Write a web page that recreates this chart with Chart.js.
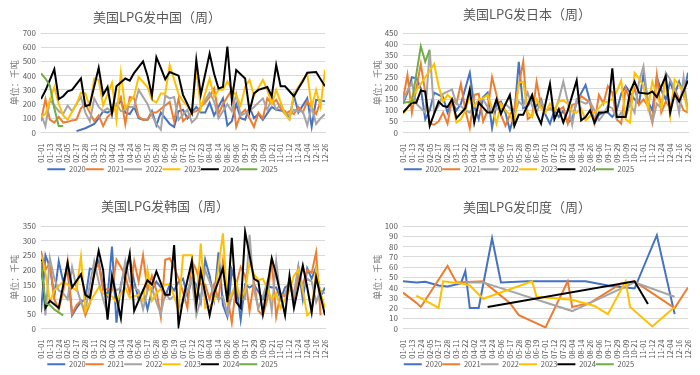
<!DOCTYPE html>
<html>
<head>
<meta charset="utf-8">
<script src="https://cdn.jsdelivr.net/npm/chart.js@4.4.0/dist/chart.umd.min.js"></script>
<style>
  html, body { margin: 0; padding: 0; background: #fff; }
  #wrap { position: relative; width: 700px; height: 375px; overflow: hidden; font-family: "Noto Sans CJK SC", sans-serif; }
  .panel { position: absolute; width: 350px; }
  .ttl { position: absolute; font-size: 13px; line-height: 18px; color: #595959; white-space: nowrap; transform: translateX(-50%); }
</style>
</head>
<body>
<div id="wrap">
  <div class="panel" style="left:0;top:0"><canvas id="cn" width="350" height="185"></canvas></div>
  <div class="panel" style="left:350px;top:0"><canvas id="jp" width="350" height="185"></canvas></div>
  <div class="panel" style="left:0;top:190px"><canvas id="kr" width="350" height="190"></canvas></div>
  <div class="panel" style="left:350px;top:190px"><canvas id="in" width="350" height="190"></canvas></div>
  <div class="ttl" style="left:157px;top:8px">美国LPG发中国（周）</div>
  <div class="ttl" style="left:527px;top:5px">美国LPG发日本（周）</div>
  <div class="ttl" style="left:165px;top:197px">美国LPG发韩国（周）</div>
  <div class="ttl" style="left:527px;top:198px">美国LPG发印度（周）</div>
</div>
<script>
// x 轴刻度（每两个周期显示一个）
const weekLabels = ['01-01','01-13','01-24','02-05','02-17','02-28','03-11','03-22','04-02','04-14','04-24',
  '05-06','05-17','05-28','06-09','06-19','07-01','07-12','07-23','08-04','08-14','08-26','09-06','09-17',
  '09-29','10-09','10-21','11-01','11-12','11-24','12-04','12-16','12-26'];
const years = ['2020', '2021', '2022', '2023', '2024', '2025'];
const yearColors = ['#4472C4', '#ED7D31', '#A5A5A5', '#FFC000', '#000000', '#70AD47'];

// 数据：[周序号, 千吨]
// 中国
const cn2020 = [[8,10],[10,30],[12,60],[13,100],[14,150],[15,140],[16,160],[18,220],[19,140],[20,130],[21,180],[22,100],[23,90],[24,90],[25,150],[26,50],[27,140],[29,60],[30,40],[31,150],[32,160],[33,100],[35,180],[36,140],[37,140],[38,210],[39,120],[41,240],[42,50],[43,80],[44,200],[45,100],[46,90],[47,180],[48,100],[49,130],[50,90],[52,180],[53,160],[55,150],[56,100],[57,260],[58,140],[60,240],[61,40],[62,230],[64,220]];
const cn2021 = [[0,80],[1,235],[2,90],[3,70],[4,110],[5,70],[6,75],[7,85],[8,90],[9,170],[10,200],[11,140],[12,80],[13,120],[14,45],[15,110],[16,140],[18,250],[19,60],[20,250],[21,240],[22,110],[23,90],[24,90],[25,140],[26,140],[28,190],[29,215],[30,80],[31,240],[32,80],[34,140],[35,150],[37,210],[38,250],[39,310],[40,130],[41,200],[43,300],[44,40],[45,130],[46,160],[48,40],[49,140],[50,100],[51,240],[52,200],[53,230],[54,170],[55,130],[56,150],[57,130],[58,180],[59,140],[60,220],[62,130],[63,220]];
const cn2022 = [[0,130],[1,45],[2,230],[4,150],[5,130],[6,190],[7,150],[8,200],[9,250],[10,140],[11,80],[12,240],[13,180],[14,150],[15,170],[16,140],[17,200],[18,150],[19,160],[20,180],[21,180],[22,300],[24,200],[25,120],[26,60],[27,20],[28,260],[29,240],[30,250],[31,90],[33,160],[34,70],[35,100],[36,180],[38,280],[39,220],[40,100],[41,150],[42,200],[43,150],[44,270],[45,120],[47,150],[48,180],[50,240],[51,160],[52,240],[53,160],[54,200],[55,140],[56,120],[57,160],[58,150],[59,150],[60,50],[61,180],[62,60],[63,100],[64,130]];
const cn2023 = [[0,110],[1,130],[3,320],[4,200],[5,120],[6,90],[8,200],[9,280],[10,275],[11,180],[12,380],[13,370],[14,190],[16,350],[17,90],[18,420],[19,170],[21,260],[22,390],[24,320],[25,230],[26,210],[27,275],[28,275],[29,475],[31,270],[32,220],[34,150],[35,450],[36,170],[38,380],[39,250],[40,300],[41,300],[42,360],[43,300],[44,260],[45,190],[46,320],[47,370],[48,260],[50,370],[51,300],[52,200],[53,300],[55,130],[56,90],[57,270],[59,370],[60,410],[61,180],[62,300],[63,180],[64,440]];
const cn2024 = [[0,235],[1,295],[3,445],[4,235],[5,255],[6,290],[7,300],[9,380],[10,185],[11,195],[13,455],[14,265],[15,320],[16,135],[17,325],[19,380],[20,365],[21,420],[23,500],[24,400],[25,260],[26,530],[27,455],[28,375],[29,425],[31,400],[32,265],[34,135],[35,510],[36,265],[38,555],[39,415],[40,310],[41,320],[42,605],[43,230],[44,440],[46,380],[47,150],[48,275],[49,300],[51,320],[52,255],[53,475],[54,325],[55,325],[57,255],[58,310],[59,360],[60,420],[62,425],[64,325]];
const cn2025 = [[0,415],[1,380],[2,330],[3,170],[4,45],[5,45]];

// 日本
const jp2020 = [[0,130],[1,180],[2,250],[3,245],[4,200],[5,60],[6,100],[7,180],[8,170],[9,160],[10,90],[11,140],[12,100],[13,130],[15,270],[16,120],[17,60],[18,160],[19,180],[20,20],[21,130],[22,140],[23,90],[24,10],[25,80],[26,320],[27,110],[28,120],[29,150],[30,120],[31,150],[32,80],[33,40],[34,100],[35,70],[36,100],[37,45],[38,60],[39,140],[41,215],[42,140],[43,40],[44,80],[45,90],[46,90],[47,70],[48,100],[49,175],[50,210],[52,150],[53,130],[54,265],[55,140],[56,100],[57,250],[58,190],[59,150],[60,230],[61,170],[62,230],[63,170],[64,270]];
const jp2021 = [[0,150],[1,260],[2,90],[3,200],[4,310],[5,180],[6,40],[7,35],[8,50],[9,90],[10,40],[11,150],[12,130],[13,220],[14,100],[15,20],[16,170],[17,175],[18,50],[19,100],[20,250],[21,170],[22,80],[23,30],[24,80],[25,110],[27,320],[28,60],[29,75],[30,230],[31,125],[32,100],[33,110],[34,110],[35,100],[36,115],[37,40],[38,125],[39,130],[40,165],[41,150],[42,135],[43,45],[44,170],[45,130],[46,210],[47,180],[48,60],[49,40],[50,200],[51,140],[52,200],[53,125],[54,150],[55,120],[56,45],[57,260],[58,90],[59,140],[60,110],[61,200],[62,150],[63,100],[64,90]];
const jp2022 = [[0,140],[1,190],[2,225],[3,130],[4,110],[5,90],[6,370],[7,90],[8,120],[9,175],[10,185],[11,195],[12,130],[13,120],[14,100],[15,90],[16,120],[17,145],[18,150],[19,115],[20,95],[21,110],[22,100],[23,130],[24,110],[25,80],[26,140],[27,120],[28,180],[29,120],[30,90],[31,140],[32,100],[33,105],[34,95],[35,150],[36,230],[37,140],[38,35],[39,150],[40,140],[41,130],[42,140],[43,100],[44,55],[45,80],[46,120],[47,110],[48,60],[49,90],[50,70],[51,130],[52,90],[53,230],[54,300],[55,140],[56,45],[57,130],[58,110],[59,270],[60,240],[61,195],[62,90],[63,250],[64,90]];
const jp2023 = [[0,85],[1,110],[2,160],[3,190],[4,220],[5,250],[6,280],[7,310],[8,210],[9,140],[10,170],[11,150],[12,45],[13,60],[14,100],[15,165],[16,120],[17,150],[18,155],[19,170],[20,110],[21,40],[22,130],[23,100],[24,80],[25,35],[26,225],[27,230],[28,90],[29,70],[30,150],[31,110],[32,90],[33,130],[34,100],[35,140],[36,145],[37,130],[38,95],[39,90],[40,110],[41,55],[42,75],[43,90],[44,110],[45,135],[46,140],[47,150],[48,185],[49,235],[50,60],[51,45],[52,270],[53,245],[54,210],[55,110],[56,230],[57,175],[58,110],[59,240],[60,75],[61,240],[62,215],[63,180],[64,90]];
const jp2024 = [[0,90],[2,135],[3,135],[4,190],[5,185],[6,30],[8,140],[9,120],[10,115],[11,150],[12,65],[14,110],[15,195],[16,45],[17,135],[19,90],[20,90],[21,150],[22,85],[24,170],[25,30],[26,80],[27,80],[29,170],[30,85],[31,40],[33,220],[34,60],[35,105],[36,45],[37,100],[39,235],[40,55],[41,70],[42,100],[43,45],[44,90],[45,90],[46,95],[47,290],[48,70],[50,70],[51,185],[52,230],[53,180],[55,175],[56,185],[57,160],[59,255],[60,90],[61,175],[62,140],[64,235]];
const jp2025 = [[0,135],[2,140],[4,390],[5,320],[6,375]];

// 韩国
const kr2020 = [[0,55],[1,250],[2,210],[3,110],[4,230],[5,160],[6,200],[7,45],[8,70],[9,90],[10,100],[11,205],[12,200],[13,230],[14,140],[15,110],[16,280],[17,20],[18,150],[19,210],[20,240],[21,160],[22,100],[23,130],[24,65],[25,130],[26,160],[27,140],[28,110],[29,150],[30,130],[31,160],[32,170],[33,110],[34,170],[35,150],[36,90],[37,235],[38,180],[39,100],[40,260],[41,80],[42,40],[43,200],[44,150],[45,30],[46,150],[47,140],[48,150],[50,100],[51,145],[52,140],[53,140],[54,100],[55,140],[56,150],[57,100],[58,210],[59,100],[60,205],[61,170],[62,210],[63,110],[64,140]];
const kr2021 = [[0,265],[1,200],[2,225],[3,100],[4,65],[5,125],[6,230],[7,50],[8,80],[9,95],[10,45],[11,85],[12,200],[13,220],[14,130],[15,135],[16,130],[17,235],[18,210],[19,180],[20,120],[21,230],[22,160],[23,250],[24,130],[25,180],[26,130],[27,40],[28,235],[29,240],[30,210],[31,170],[32,125],[33,70],[34,230],[35,200],[36,150],[37,150],[38,100],[39,150],[40,100],[41,230],[42,110],[43,20],[44,150],[45,210],[46,180],[47,60],[48,160],[49,60],[50,45],[51,100],[52,235],[53,40],[54,120],[55,110],[56,170],[57,110],[58,175],[59,150],[60,200],[61,190],[62,260],[63,45]];
const kr2022 = [[0,230],[1,45],[2,240],[3,170],[4,130],[5,120],[6,100],[7,210],[8,140],[9,90],[10,60],[11,150],[12,230],[13,160],[14,100],[15,50],[16,150],[17,130],[18,140],[19,230],[20,160],[21,140],[22,130],[23,65],[24,130],[25,140],[26,90],[27,50],[28,120],[29,100],[30,110],[31,70],[32,90],[34,170],[35,45],[36,100],[37,200],[38,160],[39,120],[40,100],[41,110],[42,50],[43,110],[44,140],[45,100],[46,100],[47,320],[48,130],[49,70],[50,110],[51,160],[52,60],[53,230],[54,100],[55,120],[56,150],[57,120],[58,210],[59,140],[60,170],[61,160],[62,90],[63,130],[64,120]];
const kr2023 = [[0,250],[1,190],[2,90],[3,130],[4,145],[5,160],[6,150],[8,130],[9,245],[10,60],[11,90],[13,140],[14,120],[16,110],[17,90],[18,120],[19,140],[20,105],[21,110],[22,115],[23,95],[24,200],[25,95],[26,120],[28,150],[29,150],[30,110],[31,60],[32,250],[34,250],[35,80],[36,290],[37,70],[38,75],[39,95],[41,325],[42,90],[43,120],[44,155],[45,100],[46,130],[47,225],[48,185],[49,165],[50,170],[52,100],[53,120],[54,70],[56,130],[57,180],[58,200],[59,130],[60,45],[61,60],[62,205],[63,120],[64,70]];
const kr2024 = [[0,235],[1,70],[2,95],[4,70],[6,225],[7,140],[9,185],[10,115],[11,105],[13,265],[14,200],[15,30],[16,180],[18,35],[19,180],[20,255],[21,60],[22,95],[24,165],[25,150],[26,195],[28,115],[29,115],[30,285],[31,10],[32,100],[34,230],[35,80],[36,195],[38,45],[39,120],[41,205],[42,90],[43,310],[44,90],[45,70],[46,330],[48,170],[49,160],[50,50],[52,240],[53,185],[55,45],[56,180],[57,70],[59,215],[60,140],[61,55],[62,175],[64,45]];
const kr2025 = [[0,230],[1,85],[2,80],[3,65],[5,45]];

// 印度
const in2020 = [[0,46],[3,45],[5,45.5],[8,42],[10,41],[13,44],[14,56],[15,20],[17,20],[20,88],[22,45],[28,46],[41,46],[46,42],[50,40],[52,39],[57,91],[61,14]];
const in2021 = [[0,35],[3,25],[4,21],[10,61],[12,45],[18,46],[24,25],[26,13],[32,1],[37,46],[38,21],[42,25],[49,44],[52,46],[61,20],[64,40]];
const in2022 = [[14,45],[18,45],[38,17],[52,45],[61,31]];
const in2023 = [[3,32],[8,20],[9,46],[13,44],[15,42],[18,29],[29,46],[30,31],[38,28],[43,22],[46,14],[50,46],[51,21],[56,2],[61,21]];
const in2024 = [[19,21],[52,46],[55,24]];
const in2025 = [];

Chart.defaults.font.family = '"Noto Sans CJK SC", "Noto Sans", sans-serif';
Chart.defaults.color = '#595959';

function legendLabels(chart) {
    return Chart.defaults.plugins.legend.labels.generateLabels(chart)
        .sort((a, b) => a.datasetIndex - b.datasetIndex)
        .map(l => Object.assign(l, { lineWidth: 0 }));
}

function makeChart(id, seriesList, yMax, yStep, box) {
    const datasets = seriesList.map((s, i) => ({
        label: years[i],
        data: s,
        borderColor: yearColors[i],
        backgroundColor: yearColors[i],
        borderWidth: 2,
        pointRadius: 0,
        tension: 0,
        order: 5 - i
    }));
    return new Chart(document.getElementById(id), {
        type: 'line',
        data: { datasets },
        options: {
            responsive: false,
            animation: false,
            layout: { padding: { left: 0, right: box.right, top: box.top, bottom: box.bottom } },
            plugins: {
                legend: {
                    position: 'bottom',
                    labels: { boxWidth: 18, boxHeight: 2, padding: 0, font: { size: 7.5 }, color: '#595959', generateLabels: legendLabels }
                },
                tooltip: { enabled: false }
            },
            scales: {
                x: {
                    type: 'linear', min: 0, max: 64,
                    grid: { display: false },
                    border: { color: '#d9d9d9' },
                    ticks: {
                        stepSize: 2, autoSkip: false, minRotation: 90, maxRotation: 90, padding: 3,
                        font: { size: 7.5 }, color: '#595959',
                        callback: v => weekLabels[v / 2]
                    },
                    afterFit: s => { s.height = box.xh; }
                },
                y: {
                    min: 0, max: yMax,
                    grid: { color: '#d9d9d9', drawTicks: false },
                    border: { display: false },
                    ticks: { stepSize: yStep, autoSkip: false, padding: 5, font: { size: 8 }, color: '#595959' },
                    title: { display: true, text: '单位：千吨', color: '#7f7f7f', font: { size: 9 }, padding: { top: box.tp, bottom: 0 } },
                    afterFit: s => { s.width = box.left; }
                }
            }
        }
    });
}

makeChart('cn', [cn2020, cn2021, cn2022, cn2023, cn2024, cn2025], 700, 100, { left: 41, right: 25, top: 33, bottom: 2, xh: 33, tp: 9 });
makeChart('jp', [jp2020, jp2021, jp2022, jp2023, jp2024, jp2025], 450, 50, { left: 53, right: 12, top: 33, bottom: 2, xh: 33, tp: 22 });
makeChart('kr', [kr2020, kr2021, kr2022, kr2023, kr2024, kr2025], 350, 50, { left: 41, right: 25, top: 36, bottom: 2, xh: 32, tp: 9 });
makeChart('in', [in2020, in2021, in2022, in2023, in2024, in2025], 100, 10, { left: 53, right: 12, top: 36, bottom: 2, xh: 32, tp: 22 });
</script>
</body>
</html>
